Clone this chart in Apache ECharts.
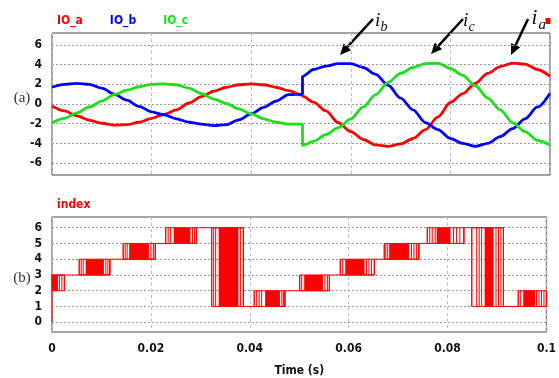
<!DOCTYPE html>
<html><head><meta charset="utf-8">
<script src="https://cdn.jsdelivr.net/npm/echarts@6/dist/echarts.min.js"></script>
<style>html,body{margin:0;padding:0;background:#fff}#c{width:559px;height:378px}</style>
</head><body><div id="c"></div>
<script>
// ---- Panel (a): three-phase currents ----
const timeTop = [0,0.0025,0.005,0.0075,0.01,0.0125,0.015,0.0175,0.02,0.0225,0.025,0.0275,0.03,0.0325,0.035,0.0375,0.04,0.0425,0.045,0.0475,0.0503,
                 0.0503,0.0525,0.055,0.0575,0.06,0.0625,0.065,0.0675,0.07,0.0725,0.075,0.0775,0.08,0.0825,0.085,0.0875,0.09,0.0925,0.095,0.0975,0.1];
const ioA = [-0.2,-0.7,-1.2,-1.65,-1.95,-2.15,-2.1,-1.85,-1.45,-1.05,-0.6,0.1,0.75,1.3,1.7,1.95,2.05,1.95,1.7,1.35,0.9,
             0.8,0.2,-0.7,-1.9,-2.8,-3.6,-4.15,-4.3,-4.05,-3.5,-2.6,-1.3,0.15,1.05,2.1,3.1,3.8,4.15,4.05,3.5,2.8];
const ioB = [1.7,2.0,2.1,2.0,1.6,1.0,0.4,-0.25,-0.8,-1.1,-1.5,-1.85,-2.05,-2.2,-2.1,-1.6,-1.0,-0.35,0.3,0.95,1.0,
             2.8,3.5,3.85,4.1,4.1,3.7,3.0,1.9,0.6,-0.6,-1.9,-2.6,-3.5,-4.0,-4.3,-4.0,-3.3,-2.5,-1.5,-0.3,1.1];
const ioC = [-1.9,-1.45,-0.9,-0.3,0.3,0.95,1.4,1.75,2.0,2.05,1.95,1.6,1.05,0.5,0.05,-0.5,-1.0,-1.5,-1.85,-2.05,-2.05,
             -4.2,-3.8,-3.1,-2.4,-1.5,-0.3,0.95,2.2,3.1,3.7,4.1,4.15,3.6,2.9,1.85,0.6,-0.6,-1.9,-2.8,-3.7,-4.15];
const topTicks = [-6,-4,-2,0,2,4,6];

// ---- Panel (b): switching index ----
const indexTime  = [0,0,0.0117,0.0209,0.0292,0.0387,0.0471,0.0561,0.0652,0.0742,0.0833,0.0913,0.1];
const indexLevel = [0,3,4,5,6,1,2,3,4,5,6,1,1];
const burstStart = [0.0000,0.0055,0.0144,0.0230,0.0323,0.0409,0.0501,0.0583,0.0672,0.0759,0.0849,0.0943];
const burstEnd   = [0.0025,0.0117,0.0209,0.0292,0.0387,0.0471,0.0561,0.0652,0.0742,0.0833,0.0913,0.1000];
const burstLow   = [2,3,4,5,1,1,2,3,4,5,1,1];
const burstHigh  = [3,4,5,6,6,2,3,4,5,6,6,2];
const coreStart  = [0.0000,0.0068,0.0156,0.0246,0.0337,0.0431,0.0510,0.0593,0.0682,0.0778,0.0875,0.0953];
const coreEnd    = [0.0012,0.0105,0.0196,0.0280,0.0377,0.0461,0.0548,0.0632,0.0722,0.0806,0.0893,0.0977];
const burstLines = [
  [0.0015,0.0020,0.0025],
  [0.0055,0.0059,0.0063,0.0109,0.0113,0.0117],
  [0.0144,0.0148,0.0152,0.0200,0.0205,0.0209],
  [0.0230,0.0235,0.0240,0.0284,0.0288,0.0292],
  [0.0323,0.0327,0.0331,0.0381,0.0387],
  [0.0409,0.0414,0.0419,0.0424,0.0465,0.0468,0.0471],
  [0.0501,0.0505,0.0552,0.0557,0.0561],
  [0.0583,0.0588,0.0636,0.0641,0.0646,0.0652],
  [0.0672,0.0675,0.0679,0.0727,0.0732,0.0737,0.0742],
  [0.0759,0.0764,0.0769,0.0775,0.0812,0.0818,0.0825,0.0833],
  [0.0849,0.0859,0.0864,0.0869,0.0898,0.0903,0.0908,0.0913],
  [0.0943,0.0948,0.0980,0.0985,0.0990,0.0995,0.1000]
];
const bottomTicks = [0,1,2,3,4,5,6];
const xTickLabels = ['0','0.02','0.04','0.06','0.08','0.1'];

const RED = '#ff0000', BLUE = '#0000ff', GREEN = '#19e019';
const NARROW = "'DejaVu Sans Condensed','Liberation Sans Narrow','Arial Narrow','Liberation Sans',sans-serif";
const SERIF = "'Liberation Serif','Times New Roman',serif";
const lbl = {fontFamily: NARROW, fontWeight: 'bold', fontSize: 12, color: '#111'};

const pairs = (xs, ys) => xs.map((x, i) => [x, ys[i]]);

function renderBurst(params, api) {
  const i = params.dataIndex;
  const s = api.value(0), e = api.value(1), lo = api.value(2), hi = api.value(3);
  const cs = api.value(4), ce = api.value(5);
  const p1 = api.coord([s, hi]), p2 = api.coord([e, lo]);
  const c1 = api.coord([cs, hi]), c2 = api.coord([ce, lo]);
  const children = [
    {type: 'rect', shape: {x: c1[0], y: c1[1], width: Math.max(c2[0] - c1[0], 1), height: c2[1] - c1[1]}, style: {fill: RED}},
    {type: 'rect', shape: {x: p1[0], y: p1[1], width: p2[0] - p1[0], height: p2[1] - p1[1]}, style: {fill: 'none', stroke: RED, lineWidth: 1}}
  ];
  burstLines[i].forEach(t => {
    const a = api.coord([t, lo]), b = api.coord([t, hi]);
    children.push({type: 'line', shape: {x1: a[0], y1: a[1], x2: b[0], y2: b[1]}, style: {stroke: RED, lineWidth: 1}});
  });
  return {type: 'group', children};
}

function arrow(tail, tip) {
  const dx = tip[0] - tail[0], dy = tip[1] - tail[1];
  const L = Math.hypot(dx, dy), ux = dx / L, uy = dy / L;
  const hl = 11, hw = 5;
  const bx = tip[0] - ux * hl, by = tip[1] - uy * hl;
  return [
    {type: 'line', shape: {x1: tail[0], y1: tail[1], x2: bx, y2: by}, style: {stroke: '#000', lineWidth: 2.5}},
    {type: 'polygon', shape: {points: [tip, [bx - uy * hw, by + ux * hw], [bx + uy * hw, by - ux * hw]]}, style: {fill: '#000'}}
  ];
}
function itxt(x, y, t, size) {
  return {type: 'text', x, y, style: {text: t, font: 'italic ' + size + 'px ' + SERIF, fill: '#111', verticalAlign: 'middle', align: 'left'}};
}

const chart = echarts.init(document.getElementById('c'), null, {renderer: 'canvas'});
const splitH = {show: true, lineStyle: {color: '#999', type: [2, 2], width: 1}};
const splitV = {show: true, lineStyle: {color: '#bbb', type: [3, 3], width: 1}};

chart.setOption({
  animation: false,
  backgroundColor: '#fff',
  grid: [
    {left: 52, right: 9, top: 33, height: 142, show: true, borderColor: '#444', borderWidth: 1, backgroundColor: 'transparent'},
    {left: 52, right: 9, top: 217, height: 117, show: true, borderColor: '#888', borderWidth: 1.5, backgroundColor: 'transparent'}
  ],
  legend: [
    {left: 47, top: 9, itemWidth: 0, itemHeight: 14, itemGap: 22, icon: 'rect', selectedMode: false,
     textStyle: {fontFamily: NARROW, fontWeight: 'bold', fontSize: 12},
     data: [{name: 'IO_a', textStyle: {color: RED}}, {name: 'IO_b', textStyle: {color: BLUE}}, {name: 'IO_c', textStyle: {color: GREEN}}]},
    {left: 47, top: 193, itemWidth: 0, itemHeight: 14, icon: 'rect', selectedMode: false,
     textStyle: {fontFamily: NARROW, fontWeight: 'bold', fontSize: 12},
     data: [{name: 'index', textStyle: {color: RED}}]}
  ],
  xAxis: [
    {type: 'value', gridIndex: 0, min: 0, max: 0.1, interval: 0.02, axisLine: {show: false}, axisTick: {show: false},
     axisLabel: {show: false}, splitLine: splitV},
    {type: 'value', gridIndex: 1, min: 0, max: 0.1, interval: 0.02, axisLine: {show: false}, axisTick: {show: false},
     axisLabel: Object.assign({margin: 11, formatter: (v) => xTickLabels[Math.round(v / 0.02)]}, lbl),
     splitLine: splitV,
     name: 'Time (s)', nameLocation: 'middle', nameGap: 33, nameTextStyle: lbl}
  ],
  yAxis: [
    {type: 'value', gridIndex: 0, min: -7.2, max: 7.2, axisLine: {show: false},
     axisTick: {show: false, customValues: topTicks},
     axisLabel: Object.assign({margin: 10, customValues: topTicks}, lbl), splitLine: splitH},
    {type: 'value', gridIndex: 1, min: -0.62, max: 6.68, axisLine: {show: false},
     axisTick: {show: false, customValues: bottomTicks},
     axisLabel: Object.assign({margin: 10, customValues: bottomTicks}, lbl), splitLine: splitH}
  ],
  series: [
    {name: 'IO_a', type: 'line', xAxisIndex: 0, yAxisIndex: 0, data: pairs(timeTop, ioA), showSymbol: false, smooth: 0.3, smoothMonotone: 'x', lineStyle: {color: RED, width: 2.8}, itemStyle: {color: RED}},
    {name: 'IO_b', type: 'line', xAxisIndex: 0, yAxisIndex: 0, data: pairs(timeTop, ioB), showSymbol: false, smooth: 0.3, smoothMonotone: 'x', lineStyle: {color: BLUE, width: 2.8}, itemStyle: {color: BLUE}},
    {name: 'IO_c', type: 'line', xAxisIndex: 0, yAxisIndex: 0, data: pairs(timeTop, ioC), showSymbol: false, smooth: 0.3, smoothMonotone: 'x', lineStyle: {color: GREEN, width: 2.8}, itemStyle: {color: GREEN}},
    {name: 'index', type: 'custom', xAxisIndex: 1, yAxisIndex: 1, renderItem: renderBurst,
     encode: {x: [0, 1, 4, 5], y: [2, 3]}, itemStyle: {color: RED},
     data: burstStart.map((s, i) => [s, burstEnd[i], burstLow[i], burstHigh[i], coreStart[i], coreEnd[i]])},
    {name: 'index', type: 'line', xAxisIndex: 1, yAxisIndex: 1, step: 'end', data: pairs(indexTime, indexLevel),
     showSymbol: false, lineStyle: {color: RED, width: 1}, itemStyle: {color: RED}}
  ],
  graphic: [
    {type: 'text', x: 22, y: 98, style: {text: '(a)', font: '15px ' + SERIF, fill: '#333', align: 'center', verticalAlign: 'middle'}},
    {type: 'text', x: 22, y: 278, style: {text: '(b)', font: '15px ' + SERIF, fill: '#333', align: 'center', verticalAlign: 'middle'}},
    ...arrow([373, 19], [340, 55]),
    ...arrow([463, 19], [431, 54]),
    ...arrow([528, 19], [511, 55]),
    itxt(375, 21, 'i', 19), itxt(380.5, 27.5, 'b', 14),
    itxt(463, 21, 'i', 19), itxt(468.5, 27.5, 'c', 14),
    itxt(531.5, 18.5, 'i', 21), itxt(538.5, 25.5, 'a', 15),
    {type: 'rect', shape: {x: 545.5, y: 18, width: 5, height: 6}, style: {fill: RED}}
  ]
});
</script></body></html>
